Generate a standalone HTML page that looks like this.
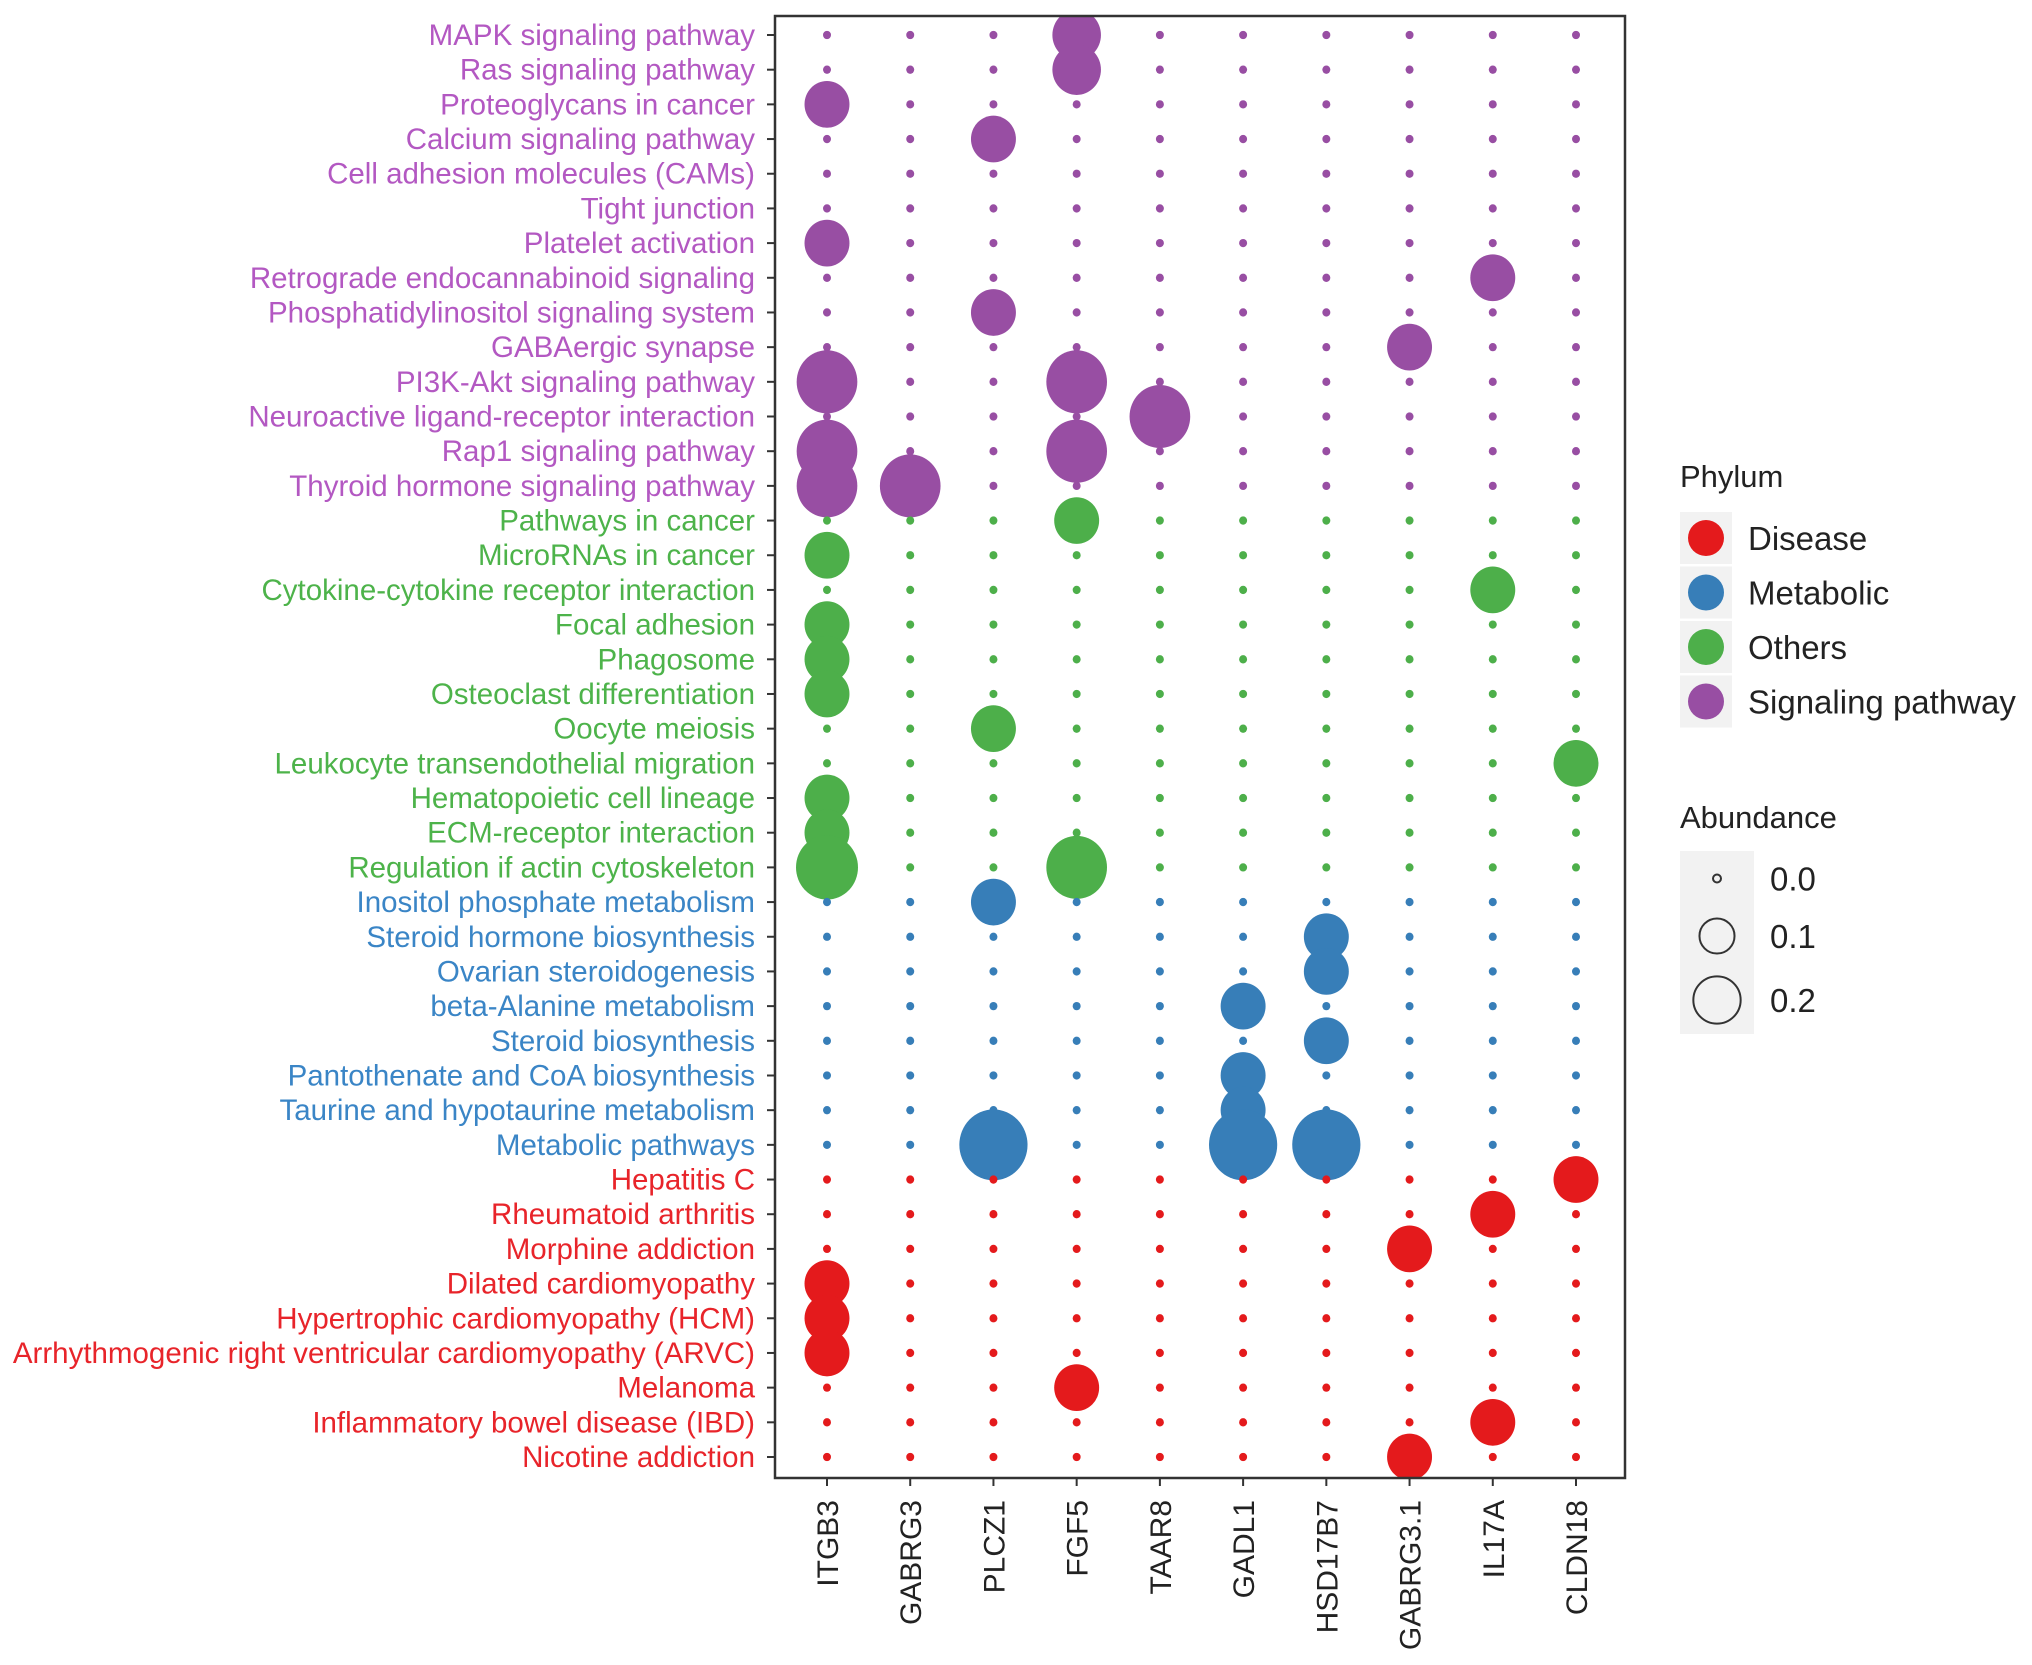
<!DOCTYPE html>
<html><head><meta charset="utf-8"><style>
html,body{margin:0;padding:0;background:#fff;}
svg{display:block;font-family:"Liberation Sans",Arial,sans-serif;}
</style></head><body>
<svg id="chart" width="2032" height="1665" viewBox="0 0 2032 1665" xmlns="http://www.w3.org/2000/svg">
<defs><clipPath id="panelClip"><rect x="775" y="16" width="850" height="1462"/></clipPath></defs>
<g id="grid"></g>
<g id="legend"></g>
</svg>
<script>
const pathways = ["MAPK signaling pathway","Ras signaling pathway","Proteoglycans in cancer","Calcium signaling pathway","Cell adhesion molecules (CAMs)","Tight junction","Platelet activation","Retrograde endocannabinoid signaling","Phosphatidylinositol signaling system","GABAergic synapse","PI3K-Akt signaling pathway","Neuroactive ligand-receptor interaction","Rap1 signaling pathway","Thyroid hormone signaling pathway","Pathways in cancer","MicroRNAs in cancer","Cytokine-cytokine receptor interaction","Focal adhesion","Phagosome","Osteoclast differentiation","Oocyte meiosis","Leukocyte transendothelial migration","Hematopoietic cell lineage","ECM-receptor interaction","Regulation if actin cytoskeleton","Inositol phosphate metabolism","Steroid hormone biosynthesis","Ovarian steroidogenesis","beta-Alanine metabolism","Steroid biosynthesis","Pantothenate and CoA biosynthesis","Taurine and hypotaurine metabolism","Metabolic pathways","Hepatitis C","Rheumatoid arthritis","Morphine addiction","Dilated cardiomyopathy","Hypertrophic cardiomyopathy (HCM)","Arrhythmogenic right ventricular cardiomyopathy (ARVC)","Melanoma","Inflammatory bowel disease (IBD)","Nicotine addiction"];
const phylum = ["S","S","S","S","S","S","S","S","S","S","S","S","S","S","O","O","O","O","O","O","O","O","O","O","O","M","M","M","M","M","M","M","M","D","D","D","D","D","D","D","D","D"];
const genes = ["ITGB3","GABRG3","PLCZ1","FGF5","TAAR8","GADL1","HSD17B7","GABRG3.1","IL17A","CLDN18"];
const abundance = [
[0,0,0,0.12,0,0,0,0,0,0],
[0,0,0,0.12,0,0,0,0,0,0],
[0.1,0,0,0,0,0,0,0,0,0],
[0,0,0.1,0,0,0,0,0,0,0],
[0,0,0,0,0,0,0,0,0,0],
[0,0,0,0,0,0,0,0,0,0],
[0.1,0,0,0,0,0,0,0,0,0],
[0,0,0,0,0,0,0,0,0.1,0],
[0,0,0.1,0,0,0,0,0,0,0],
[0,0,0,0,0,0,0,0.1,0,0],
[0.2,0,0,0.2,0,0,0,0,0,0],
[0,0,0,0,0.2,0,0,0,0,0],
[0.2,0,0,0.2,0,0,0,0,0,0],
[0.2,0.2,0,0,0,0,0,0,0,0],
[0,0,0,0.1,0,0,0,0,0,0],
[0.1,0,0,0,0,0,0,0,0,0],
[0,0,0,0,0,0,0,0,0.1,0],
[0.1,0,0,0,0,0,0,0,0,0],
[0.1,0,0,0,0,0,0,0,0,0],
[0.1,0,0,0,0,0,0,0,0,0],
[0,0,0.1,0,0,0,0,0,0,0],
[0,0,0,0,0,0,0,0,0,0.1],
[0.1,0,0,0,0,0,0,0,0,0],
[0.1,0,0,0,0,0,0,0,0,0],
[0.21,0,0,0.2,0,0,0,0,0,0],
[0,0,0.1,0,0,0,0,0,0,0],
[0,0,0,0,0,0,0.1,0,0,0],
[0,0,0,0,0,0,0.1,0,0,0],
[0,0,0,0,0,0.1,0,0,0,0],
[0,0,0,0,0,0,0.1,0,0,0],
[0,0,0,0,0,0.1,0,0,0,0],
[0,0,0,0,0,0.1,0,0,0,0],
[0,0,0.26,0,0,0.26,0.26,0,0,0],
[0,0,0,0,0,0,0,0,0,0.1],
[0,0,0,0,0,0,0,0,0.1,0],
[0,0,0,0,0,0,0,0.1,0,0],
[0.1,0,0,0,0,0,0,0,0,0],
[0.1,0,0,0,0,0,0,0,0,0],
[0.1,0,0,0,0,0,0,0,0,0],
[0,0,0,0.1,0,0,0,0,0,0],
[0,0,0,0,0,0,0,0,0.1,0],
[0,0,0,0,0,0,0,0.1,0,0]
];
const legendGroups = ["Disease","Metabolic","Others","Signaling pathway"];
const legendKeys = ["D","M","O","S"];
const sizeBreaks = [0.0,0.1,0.2];
const sizeLabels = ["0.0","0.1","0.2"];

const NS="http://www.w3.org/2000/svg";
const fill={S:"#984EA3",O:"#4DAF4A",M:"#377EB8",D:"#E41A1C"};
const txtCol={S:"#B358C2",O:"#4DB34A",M:"#3A85C6",D:"#E8242A"};
const P={l:775,r:1625,t:16,b:1478};
const xScale=i=>827+i*(1576-827)/(genes.length-1);
const yScale=j=>35+j*(1457-35)/(pathways.length-1);
const rScale=v=>v<=0?4:3.5+60*Math.sqrt(v);
function mk(tag,attrs,parent){const e=document.createElementNS(NS,tag);for(const k in attrs)e.setAttribute(k,attrs[k]);parent.appendChild(e);return e;}
const svg=document.getElementById('chart');
const g=document.getElementById('grid');
const bubbles=mk('g',{'clip-path':'url(#panelClip)'},g);


abundance.forEach((row,j)=>{row.forEach((v,i)=>{
  const r=rScale(v);
  const c=mk('ellipse',{cx:xScale(i),cy:yScale(j),rx:r,ry:r*1.04,fill:fill[phylum[j]]},bubbles);
  
  
});});
const border=mk('rect',{x:P.l,y:P.t,width:P.r-P.l,height:P.b-P.t,fill:'none',stroke:'#333',"stroke-width":2.5},g);


pathways.forEach((p,j)=>{
  const y=yScale(j);
  mk('line',{x1:P.l-8,x2:P.l,y1:y,y2:y,stroke:'#333','stroke-width':2},g);
  const t=mk('text',{x:P.l-20,y:y+10,'text-anchor':'end','font-size':29.5,fill:txtCol[phylum[j]]},g);
  t.textContent=p;
  
  
});
genes.forEach((n,i)=>{
  const x=xScale(i);
  mk('line',{x1:x,x2:x,y1:P.b,y2:P.b+8,stroke:'#333','stroke-width':2},g);
  const t=mk('text',{x:0,y:0,'text-anchor':'end','font-size':30,fill:'#222',transform:`translate(${x+11},1500) rotate(-90)`},g);
  t.textContent=n;
  
  
});
const L=document.getElementById('legend');
const t1=mk('text',{x:1680,y:487,'font-size':31,fill:'#222'},L);t1.textContent="Phylum";


legendGroups.forEach((n,k)=>{
  const y=512+k*54.5;
  mk('rect',{x:1680,y:y,width:52,height:52,fill:'#f2f2f2'},L);
  mk('circle',{cx:1706,cy:y+26,r:18,fill:fill[legendKeys[k]]},L);
  const t=mk('text',{x:1748,y:y+38,'font-size':33,fill:'#222'},L);t.textContent=n;
  
  
});
const t2=mk('text',{x:1680,y:828,'font-size':31,fill:'#222'},L);t2.textContent="Abundance";


const sy=[851,906,966],sh=[55,60,68];
mk('rect',{x:1680,y:851,width:74,height:183,fill:'#f2f2f2'},L);
sizeBreaks.forEach((v,k)=>{
  const cy=sy[k]+sh[k]/2;
  mk('circle',{cx:1717,cy:cy,r:v<=0?4:rScale(v)*0.78,fill:'none',stroke:'#333','stroke-width':2},L);
  const t=mk('text',{x:1770,y:cy+12,'font-size':33,fill:'#222'},L);t.textContent=sizeLabels[k];
  
  
});
</script>
</body></html>
